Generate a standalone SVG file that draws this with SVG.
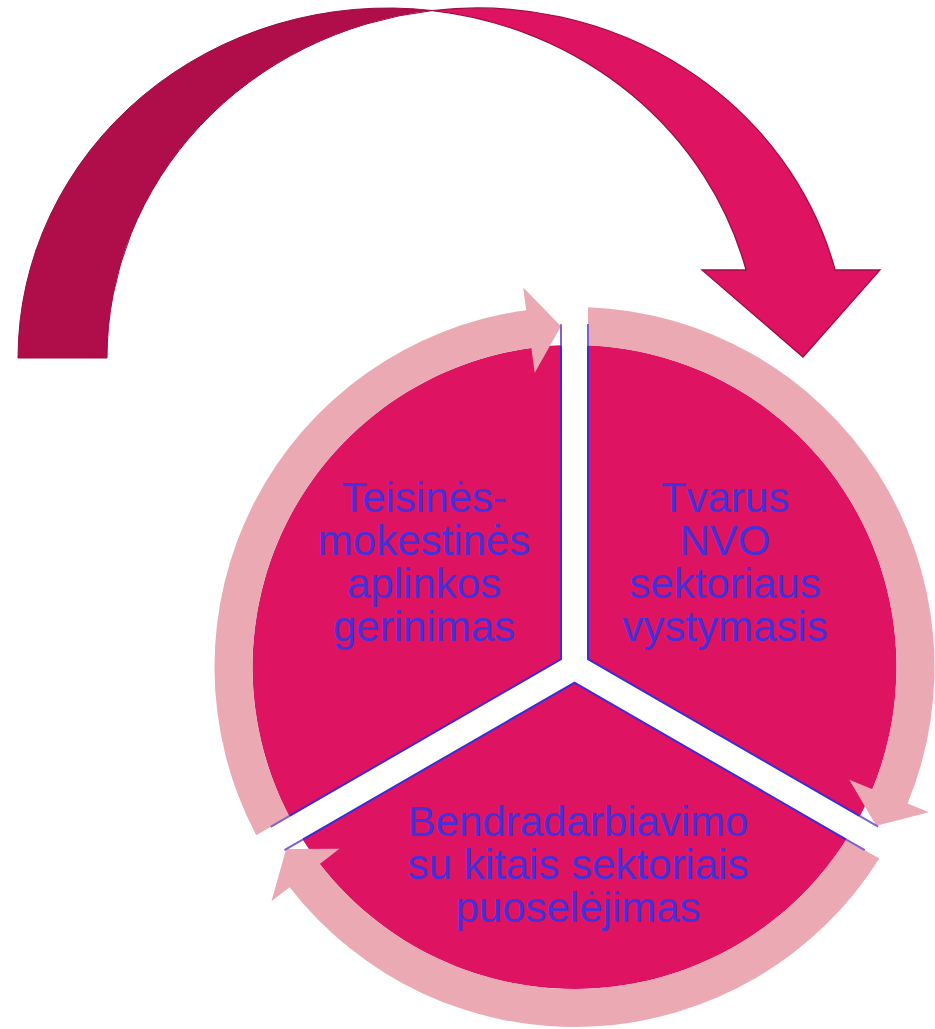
<svg xmlns="http://www.w3.org/2000/svg" width="935" height="1029" viewBox="0 0 935 1029">
<style>
.sector{fill:#DE1462;stroke:none}
.edge{fill:none;stroke:#3E2BD6;stroke-width:2}
.edge-ext{fill:none;stroke:#7E62CF;stroke-width:2}
.ring{fill:#EBA9B4;stroke:none}
.lbl{font-family:"Liberation Sans",Arial,sans-serif;font-size:42px;fill:#4630D8;text-anchor:middle}
.back{fill:#AF0E4B;stroke:#9C0B43;stroke-width:1}
.front{fill:#DE1462;stroke:#A00C45;stroke-width:1.3}
</style>
<defs>
<path id="sec" d="M13.5,-7.79 L13.5,-321.72 A322 322 0 0 1 285.36,149.18 Z"/>
<path id="edg" d="M13.5,-321.72 L13.5,-7.79 L285.36,149.18"/>
<path id="ext" d="M13.5,-321.72 L13.5,-343 M285.36,149.18 L303.58,159.66"/>
<path id="rarr" d="M13.5,-359.75 A360 360 0 0 1 333.08,136.61 L354.36,145.33 L301.84,158.67 L274.79,112.70 L297.92,122.19 A322 322 0 0 0 13.5,-321.72 Z"/>
</defs>
<g id="big-arrow">
<path class="back" d="M18,358 A370 350 0 0 1 432.5,10.54 A370 350 0 0 0 107,358 Z"/>
<path class="front" d="M432.5,10.54 A370 350 0 0 1 835.1,270 L880,270 L803,357 L702,270 L746.1,270 A370 350 0 0 0 432.5,10.54 Z"/>
</g>
<g id="node-right">
<use href="#sec" class="sector" transform="translate(574.5 667)"/>
<use href="#edg" class="edge" transform="translate(574.5 667)"/>
</g>
<g id="node-bottom">
<use href="#sec" class="sector" transform="translate(574.5 667) rotate(120)"/>
<use href="#edg" class="edge" transform="translate(574.5 667) rotate(120)"/>
</g>
<g id="node-left">
<use href="#sec" class="sector" transform="translate(574.5 667) rotate(240)"/>
<use href="#edg" class="edge" transform="translate(574.5 667) rotate(240)"/>
</g>
<g id="connectors">
<use href="#rarr" class="ring" transform="translate(574.5 667)"/>
<use href="#rarr" class="ring" transform="translate(574.5 667) rotate(120)"/>
<use href="#rarr" class="ring" transform="translate(574.5 667) rotate(240)"/>
<use href="#ext" class="edge-ext" transform="translate(574.5 667)"/>
<use href="#ext" class="edge-ext" transform="translate(574.5 667) rotate(120)"/>
<use href="#ext" class="edge-ext" transform="translate(574.5 667) rotate(240)"/>
</g>
<g id="labels">
<text class="lbl" x="424" y="512"><tspan x="424" y="512">Teisinės-</tspan><tspan x="424" y="555">mokestinės</tspan><tspan x="424" y="598">aplinkos</tspan><tspan x="424" y="641">gerinimas</tspan></text>
<text class="lbl" x="725" y="512"><tspan x="725" y="512">Tvarus</tspan><tspan x="725" y="555">NVO</tspan><tspan x="725" y="598">sektoriaus</tspan><tspan x="725" y="641">vystymasis</tspan></text>
<text class="lbl" x="578" y="836"><tspan x="578" y="836">Bendradarbiavimo</tspan><tspan x="578" y="879">su kitais sektoriais</tspan><tspan x="578" y="922">puoselėjimas</tspan></text>
</g>
</svg>
